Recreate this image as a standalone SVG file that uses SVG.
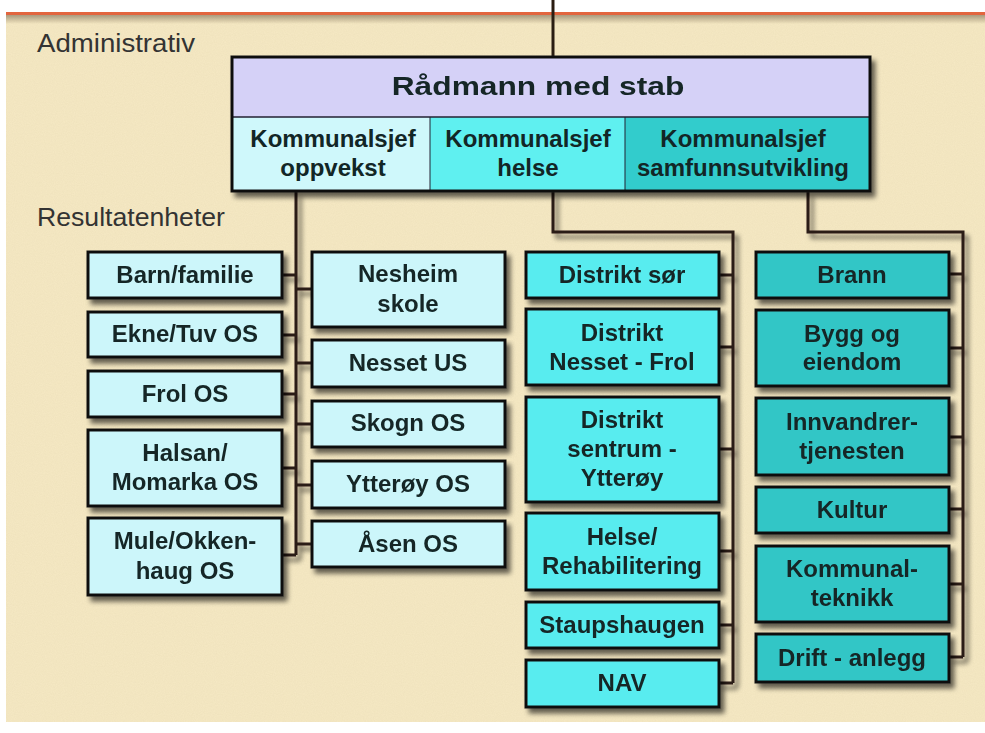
<svg xmlns="http://www.w3.org/2000/svg" width="985" height="733" viewBox="0 0 985 733">
<defs>
<filter id="sh" x="-10%" y="-10%" width="130%" height="140%">
<feGaussianBlur in="SourceAlpha" stdDeviation="2.5"/>
<feOffset dx="4" dy="5" result="b"/>
<feComponentTransfer><feFuncA type="linear" slope="0.6"/></feComponentTransfer>
<feMerge><feMergeNode/><feMergeNode in="SourceGraphic"/></feMerge>
</filter>
<filter id="tex" x="0" y="0" width="100%" height="100%">
<feTurbulence type="fractalNoise" baseFrequency="0.9" numOctaves="2" seed="3" result="n"/>
<feColorMatrix in="n" type="matrix" values="0 0 0 0 0.6  0 0 0 0 0.5  0 0 0 0 0.3  0 0 0 0.18 0" result="c"/>
<feComposite in="c" in2="SourceGraphic" operator="in" result="t"/>
<feMerge><feMergeNode in="SourceGraphic"/><feMergeNode in="t"/></feMerge>
</filter>
<linearGradient id="shade" x1="0" y1="0" x2="0" y2="1">
<stop offset="0" stop-color="#8a7a60" stop-opacity="0.7"/>
<stop offset="1" stop-color="#8a7a60" stop-opacity="0"/>
</linearGradient>
</defs>
<style>
.box{stroke:#111;stroke-width:3}
.c1{fill:#ccf6fa}
.c3{fill:#58ecef}
.c4{fill:#33c6c6}
.t{font-family:"Liberation Sans",Arial,sans-serif;font-weight:bold;font-size:24px;fill:#122626;text-anchor:middle}
.h{font-size:26px}
.lab{font-family:"Liberation Sans",Arial,sans-serif;font-size:25px;fill:#333}
.ln{fill:none;stroke:#2a1d12;stroke-width:3}
</style>
<rect x="0" y="0" width="985" height="733" fill="#ffffff"/>
<rect x="6" y="13" width="979" height="709" fill="#f6e9c4" filter="url(#tex)"/>
<rect x="6" y="15" width="979" height="9" fill="url(#shade)"/>
<line x1="6" y1="13.5" x2="985" y2="13.5" stroke="#e2653e" stroke-width="3"/>
<line x1="553" y1="0" x2="553" y2="57" stroke="#2a1d12" stroke-width="3"/>
<text class="lab" x="37" y="52" textLength="158" lengthAdjust="spacingAndGlyphs">Administrativ</text>
<text class="lab" x="37" y="226" textLength="188" lengthAdjust="spacingAndGlyphs">Resultatenheter</text>

<g id="connectors" filter="url(#sh)">
<path class="ln" d="M296,192 V555"/>
<path class="ln" d="M282,275 H296 M282,335 H296 M282,394 H296 M282,468 H296 M282,555 H296"/>
<path class="ln" d="M296,289 H311 M296,363 H311 M296,424 H311 M296,485 H311 M296,544 H311"/>
<path class="ln" d="M553,192 V232 H733 V683"/>
<path class="ln" d="M719,275 H733 M719,347 H733 M719,449 H733 M719,551 H733 M719,625 H733 M719,683 H733"/>
<path class="ln" d="M808,192 V232 H963 V657"/>
<path class="ln" d="M949,274 H963 M949,348 H963 M949,437 H963 M949,509 H963 M949,584 H963 M949,657 H963"/>
</g>

<g id="radmann" filter="url(#sh)">
<rect x="232" y="57" width="638" height="134" fill="#d5d1f7" stroke="none"/>
<rect x="232" y="117" width="198" height="74" fill="#cff8fb"/>
<rect x="430" y="117" width="195" height="74" fill="#5ff0f0"/>
<rect x="625" y="117" width="245" height="74" fill="#33cccc"/>
<line x1="232" y1="117" x2="870" y2="117" stroke="#223" stroke-width="1.5"/>
<line x1="430" y1="117" x2="430" y2="191" stroke="#223" stroke-width="1"/>
<line x1="625" y1="117" x2="625" y2="191" stroke="#223" stroke-width="1"/>
<rect x="232" y="57" width="638" height="134" fill="none" class="box"/>
<text class="t h" transform="translate(538,95) scale(1.22,1)" x="0" y="0">Rådmann med stab</text>
</g>
<g id="ks-oppvekst"><text class="t" x="333" y="147">Kommunalsjef</text><text class="t" x="333" y="176">oppvekst</text></g>
<g id="ks-helse"><text class="t" x="528" y="147">Kommunalsjef</text><text class="t" x="528" y="176">helse</text></g>
<g id="ks-samfunn"><text class="t" x="743" y="147">Kommunalsjef</text><text class="t" x="743" y="176">samfunnsutvikling</text></g>

<g id="barn" filter="url(#sh)"><rect class="box c1" x="88" y="252" width="194" height="46"/><text class="t" x="185" y="283">Barn/familie</text></g>
<g id="ekne" filter="url(#sh)"><rect class="box c1" x="88" y="312" width="194" height="45"/><text class="t" x="185" y="342">Ekne/Tuv OS</text></g>
<g id="frol" filter="url(#sh)"><rect class="box c1" x="88" y="371" width="194" height="46"/><text class="t" x="185" y="402">Frol OS</text></g>
<g id="halsan" filter="url(#sh)"><rect class="box c1" x="88" y="430" width="194" height="76"/><text class="t" x="185" y="461">Halsan/</text><text class="t" x="185" y="490">Momarka OS</text></g>
<g id="mule" filter="url(#sh)"><rect class="box c1" x="88" y="518" width="194" height="77"/><text class="t" x="185" y="549">Mule/Okken-</text><text class="t" x="185" y="579">haug OS</text></g>

<g id="nesheim" filter="url(#sh)"><rect class="box c1" x="312" y="252" width="193" height="75"/><text class="t" x="408" y="282">Nesheim</text><text class="t" x="408" y="312">skole</text></g>
<g id="nesset" filter="url(#sh)"><rect class="box c1" x="312" y="340" width="193" height="47"/><text class="t" x="408" y="371">Nesset US</text></g>
<g id="skogn" filter="url(#sh)"><rect class="box c1" x="312" y="401" width="193" height="46"/><text class="t" x="408" y="431">Skogn OS</text></g>
<g id="ytteroy" filter="url(#sh)"><rect class="box c1" x="312" y="461" width="193" height="47"/><text class="t" x="408" y="492">Ytterøy OS</text></g>
<g id="asen" filter="url(#sh)"><rect class="box c1" x="312" y="521" width="193" height="46"/><text class="t" x="408" y="552">Åsen OS</text></g>

<g id="distrikt-sor" filter="url(#sh)"><rect class="box c3" x="526" y="252" width="193" height="46"/><text class="t" x="622" y="283">Distrikt sør</text></g>
<g id="distrikt-nesset" filter="url(#sh)"><rect class="box c3" x="526" y="309" width="193" height="76"/><text class="t" x="622" y="341">Distrikt</text><text class="t" x="622" y="370">Nesset - Frol</text></g>
<g id="distrikt-sentrum" filter="url(#sh)"><rect class="box c3" x="526" y="397" width="193" height="105"/><text class="t" x="622" y="428">Distrikt</text><text class="t" x="622" y="457">sentrum -</text><text class="t" x="622" y="486">Ytterøy</text></g>
<g id="helse" filter="url(#sh)"><rect class="box c3" x="526" y="513" width="193" height="77"/><text class="t" x="622" y="545">Helse/</text><text class="t" x="622" y="574">Rehabilitering</text></g>
<g id="staupshaugen" filter="url(#sh)"><rect class="box c3" x="526" y="602" width="193" height="46"/><text class="t" x="622" y="633">Staupshaugen</text></g>
<g id="nav" filter="url(#sh)"><rect class="box c3" x="526" y="660" width="193" height="47"/><text class="t" x="622" y="691">NAV</text></g>

<g id="brann" filter="url(#sh)"><rect class="box c4" x="756" y="252" width="193" height="46"/><text class="t" x="852" y="283">Brann</text></g>
<g id="bygg" filter="url(#sh)"><rect class="box c4" x="756" y="310" width="193" height="76"/><text class="t" x="852" y="342">Bygg og</text><text class="t" x="852" y="370">eiendom</text></g>
<g id="innvandrer" filter="url(#sh)"><rect class="box c4" x="756" y="398" width="193" height="77"/><text class="t" x="852" y="430">Innvandrer-</text><text class="t" x="852" y="459">tjenesten</text></g>
<g id="kultur" filter="url(#sh)"><rect class="box c4" x="756" y="487" width="193" height="46"/><text class="t" x="852" y="518">Kultur</text></g>
<g id="kommunalteknikk" filter="url(#sh)"><rect class="box c4" x="756" y="546" width="193" height="76"/><text class="t" x="852" y="577">Kommunal-</text><text class="t" x="852" y="606">teknikk</text></g>
<g id="drift" filter="url(#sh)"><rect class="box c4" x="756" y="634" width="193" height="48"/><text class="t" x="852" y="666">Drift - anlegg</text></g>
</svg>
